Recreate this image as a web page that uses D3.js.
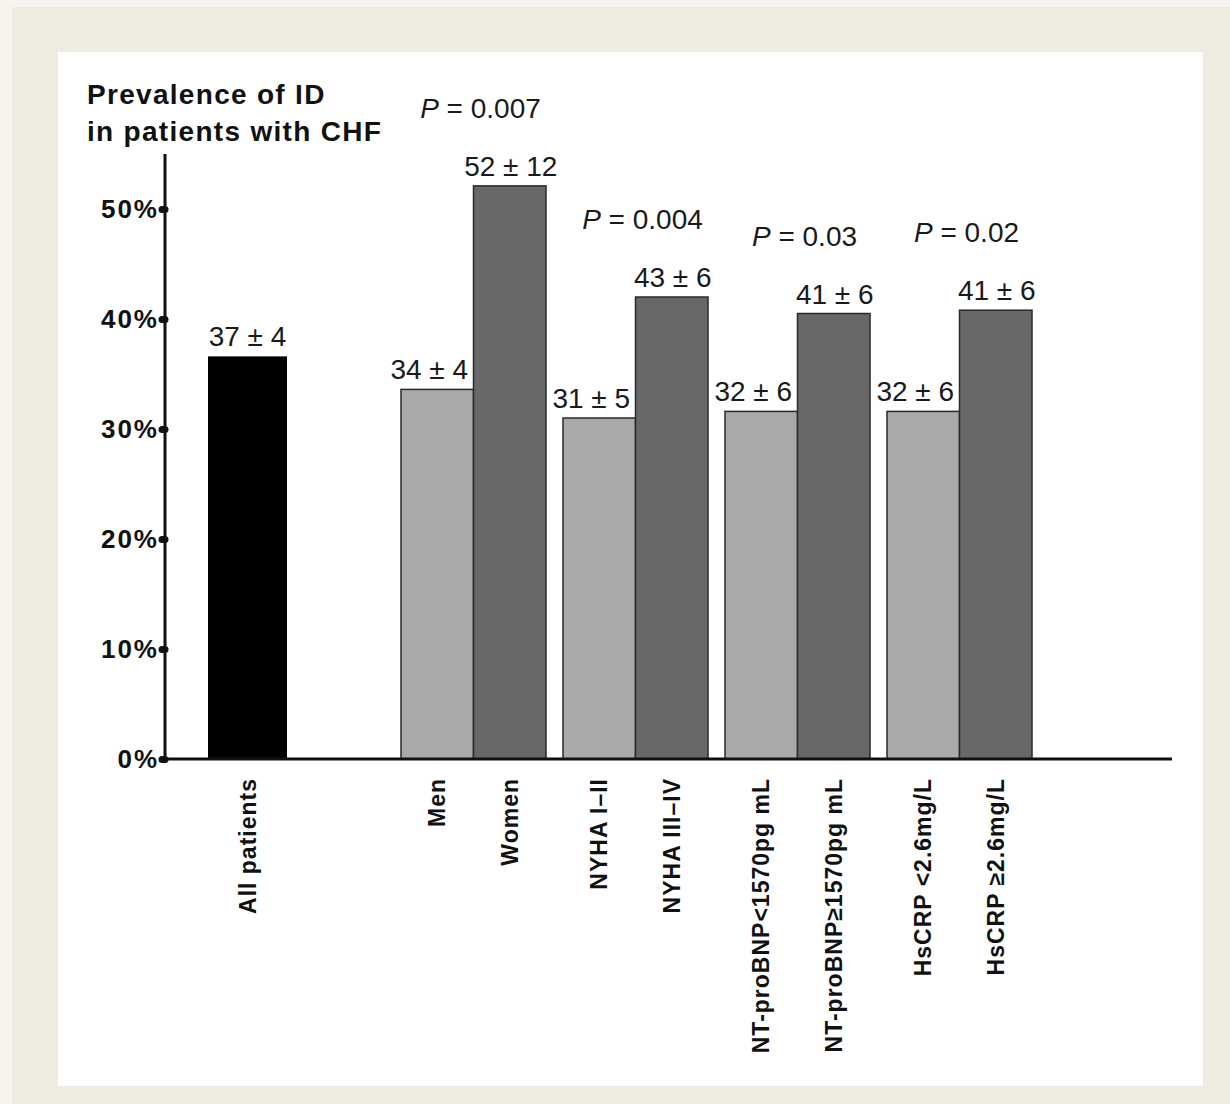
<!DOCTYPE html>
<html>
<head>
<meta charset="utf-8">
<script src="https://cdn.jsdelivr.net/npm/d3@7"></script>
<style>
  body { margin: 0; background: #eeebe1; }
  svg { display: block; font-family: "Liberation Sans", Arial, Helvetica, sans-serif; }
</style>
</head>
<body>
<svg id="chart" width="1230" height="1104"></svg>
<script>
// --- data ---
var allLabel = "All patients";
var allValue = 36.6;
var allText = "37 \u00b1 4";

var groups = ["Sex", "NYHA", "NT-proBNP", "HsCRP"];
var lowLabels = ["Men", "NYHA I\u2013II", "NT-proBNP<1570pg mL", "HsCRP <2.6mg/L"];
var highLabels = ["Women", "NYHA III\u2013IV", "NT-proBNP\u22651570pg mL", "HsCRP \u22652.6mg/L"];
var lowValues = [33.6, 31.0, 31.6, 31.6];
var highValues = [52.1, 42.0, 40.5, 40.8];
var lowText = ["34 \u00b1 4", "31 \u00b1 5", "32 \u00b1 6", "32 \u00b1 6"];
var highText = ["52 \u00b1 12", "43 \u00b1 6", "41 \u00b1 6", "41 \u00b1 6"];
var pValues = ["0.007", "0.004", "0.03", "0.02"];
var yTicks = [0, 10, 20, 30, 40, 50];

var svg = d3.select("#chart");

// outer frame + white panel
svg.append("rect").attr("x", 0).attr("y", 0).attr("width", 1230).attr("height", 1104).attr("fill", "#f6f4ee");
svg.append("rect").attr("x", 12).attr("y", 7).attr("width", 1218).attr("height", 1097).attr("fill", "#eeebe1");
svg.append("rect").attr("x", 58).attr("y", 52).attr("width", 1145).attr("height", 1034).attr("fill", "#ffffff");

var y = d3.scaleLinear().domain([0, 55]).range([759, 154]);

var xAll = d3.scaleBand().domain([allLabel]).range([208, 287]);
var x0 = d3.scaleBand().domain(groups).range([401, 1032]).paddingInner(17 / 162).paddingOuter(0);
var x1 = d3.scaleBand().domain(["low", "high"]).range([0, x0.bandwidth()]).padding(0);
var color = d3.scaleOrdinal().domain(["all", "low", "high"]).range(["#000000", "#a9a9a9", "#686868"]);

var rows = [];
groups.forEach(function(g, i) {
  rows.push({group: g, key: "low", label: lowLabels[i], value: lowValues[i], text: lowText[i]});
  rows.push({group: g, key: "high", label: highLabels[i], value: highValues[i], text: highText[i]});
});

// all patients bar
svg.append("rect")
  .attr("x", xAll(allLabel))
  .attr("y", y(allValue))
  .attr("width", xAll.bandwidth())
  .attr("height", y(0) - y(allValue))
  .attr("fill", color("all"));

svg.append("text")
  .attr("x", xAll(allLabel) + xAll.bandwidth() / 2)
  .attr("y", y(allValue) - 10)
  .attr("text-anchor", "middle")
  .attr("font-size", 28)
  .attr("fill", "#1a1a1a")
  .text(allText);

// paired bars
var bar = svg.selectAll(".bar")
  .data(rows)
  .enter().append("g")
  .attr("class", "bar")
  .attr("transform", function(d) { return "translate(" + (x0(d.group) + x1(d.key)) + ",0)"; });

bar.append("rect")
  .attr("y", function(d) { return y(d.value); })
  .attr("width", x1.bandwidth())
  .attr("height", function(d) { return y(0) - y(d.value); })
  .attr("fill", function(d) { return color(d.key); })
  .attr("stroke", "#2a2a2a")
  .attr("stroke-width", 1.5);

// low-bar labels sit a little left of centre in the original
bar.append("text")
  .attr("x", function(d) { return x1.bandwidth() / 2 + (d.key == "low" ? -8 : 1); })
  .attr("y", function(d) { return y(d.value) - 10; })
  .attr("text-anchor", "middle")
  .attr("font-size", 28)
  .attr("fill", "#1a1a1a")
  .text(function(d) { return d.text; });

// P values above each pair
var pLab = svg.selectAll(".pval")
  .data(groups)
  .enter().append("text")
  .attr("class", "pval")
  .attr("x", function(g) { return x0(g) + x0.bandwidth() / 2 + 7; })
  .attr("y", function(g, i) { return y(Math.max(lowValues[i], highValues[i])) - 68; })
  .attr("text-anchor", "middle")
  .attr("font-size", 28)
  .attr("fill", "#1a1a1a");
pLab.append("tspan").attr("font-style", "italic").text("P");
pLab.append("tspan").text(function(g, i) { return " = " + pValues[i]; });

// x labels (rotated)
var xLabels = [{label: allLabel, x: xAll(allLabel) + xAll.bandwidth() / 2}];
rows.forEach(function(d) {
  xLabels.push({label: d.label, x: x0(d.group) + x1(d.key) + x1.bandwidth() / 2});
});
svg.selectAll(".xlab")
  .data(xLabels)
  .enter().append("text")
  .attr("class", "xlab")
  .attr("transform", function(d) { return "translate(" + d.x + ",778) rotate(-90)"; })
  .attr("dy", "0.35em")
  .attr("text-anchor", "end")
  .attr("font-size", 23)
  .attr("font-weight", "bold")
  .attr("letter-spacing", 1)
  .attr("fill", "#111")
  .text(function(d) { return d.label; });

// axes
var yAxis = svg.append("g")
  .attr("transform", "translate(165,0)")
  .call(d3.axisLeft(y).tickValues(yTicks).tickSize(3).tickFormat(function(d) { return d + "%"; }));
yAxis.select(".domain").remove();
yAxis.selectAll(".tick line").attr("stroke", "#111").attr("stroke-width", 7).attr("stroke-linecap", "round");
yAxis.selectAll(".tick text")
  .attr("x", -6)
  .attr("font-size", 26)
  .attr("font-weight", "bold")
  .attr("letter-spacing", 2)
  .attr("font-family", "\"Liberation Sans\", Arial, sans-serif")
  .attr("fill", "#111");

svg.append("line")
  .attr("x1", 165).attr("x2", 165)
  .attr("y1", y(55)).attr("y2", y(0))
  .attr("stroke", "#111").attr("stroke-width", 3);
svg.append("line")
  .attr("x1", 165).attr("x2", 1172)
  .attr("y1", y(0)).attr("y2", y(0))
  .attr("stroke", "#111").attr("stroke-width", 3);

// title
var title = svg.append("text")
  .attr("x", 87)
  .attr("font-size", 28)
  .attr("font-weight", "bold")
  .attr("letter-spacing", 1.3)
  .attr("fill", "#111");
title.append("tspan").attr("x", 87).attr("y", 104).text("Prevalence of ID");
title.append("tspan").attr("x", 87).attr("y", 141).text("in patients with CHF");
</script>
</body>
</html>
